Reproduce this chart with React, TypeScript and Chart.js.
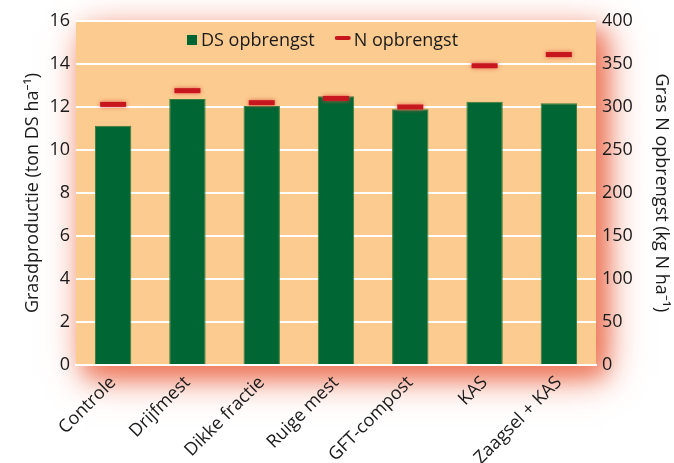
import React, { useEffect, useRef } from "react";
import { Chart, registerables } from "chart.js";

Chart.register(...registerables);

const categories = ["Controle", "Drijfmest", "Dikke fractie", "Ruige mest", "GFT-compost", "KAS", "Zaagsel + KAS"];
const dsValues = [11.13, 12.37, 12.05, 12.5, 11.9, 12.24, 12.17];
const nValues = [303, 319, 305, 310, 300, 348, 361];
const seriesLabels = ["DS opbrengst", "N opbrengst"];
const leftTitle = "Grasdproductie (ton DS ha\u207B\u00B9)";
const rightTitle = "Gras N opbrengst (kg N ha\u207B\u00B9)";

const FONT = "'Open Sans', 'Noto Sans', sans-serif";
const GREEN = "#006633";
const RED = "#C8161E";
const PEACH = "#FBCB8F";

const backgroundPlugin = {
  id: "plotBackground",
  beforeDraw(chart: any) {
    const { ctx, chartArea } = chart;
    const { left, top, right, bottom } = chartArea;
    ctx.save();
    ctx.shadowColor = "rgba(236, 112, 82, 1)";
    ctx.shadowBlur = 36;
    ctx.shadowOffsetX = 9;
    ctx.shadowOffsetY = 11;
    ctx.fillStyle = PEACH;
    ctx.fillRect(left, top, right - left, bottom - top);
    ctx.shadowBlur = 18;
    ctx.shadowColor = "rgba(236, 112, 82, 0.6)";
    ctx.fillRect(left, top, right - left, bottom - top);
    ctx.restore();
    ctx.save();
    ctx.fillStyle = PEACH;
    ctx.fillRect(left, top, right - left, bottom - top);
    ctx.restore();
  },
  beforeDatasetDraw(chart: any, args: any) {
    if (args.index === 1) {
      const ctx = chart.ctx;
      ctx.save();
      ctx.shadowColor = "rgba(225, 80, 70, 0.85)";
      ctx.shadowBlur = 4;
    }
  },
  afterDatasetDraw(chart: any, args: any) {
    if (args.index === 1) {
      chart.ctx.restore();
    }
  },
  afterDraw(chart: any) {
    const { ctx, chartArea } = chart;
    const ds = chart.data.datasets;
    ctx.save();
    ctx.font = `18px ${FONT}`;
    ctx.textBaseline = "middle";
    const cy = 41;
    let x = chartArea.left + 111;
    ctx.fillStyle = GREEN;
    ctx.fillRect(x, cy - 6, 10, 10);
    x += 14;
    ctx.fillStyle = "#1a1a1a";
    ctx.textAlign = "left";
    ctx.fillText(ds[0].label, x, cy);
    x += ctx.measureText(ds[0].label).width + 20;
    ctx.strokeStyle = RED;
    ctx.lineWidth = 4;
    ctx.lineCap = "round";
    ctx.beginPath();
    ctx.moveTo(x + 2, cy - 3);
    ctx.lineTo(x + 14, cy - 3);
    ctx.stroke();
    x += 19;
    ctx.fillText(ds[1].label, x, cy);
    ctx.restore();
  },
};

export default function App() {
  const canvasRef = useRef<HTMLCanvasElement | null>(null);

  useEffect(() => {
    if (!canvasRef.current) return;
    const chart = new Chart(canvasRef.current, {
      type: "bar",
      data: {
        labels: categories,
        datasets: [
          {
            type: "bar",
            label: seriesLabels[0],
            data: dsValues,
            backgroundColor: GREEN,
            borderColor: "#3C7D3C",
            borderWidth: 1,
            barPercentage: 0.49,
            categoryPercentage: 1,
            yAxisID: "y",
            order: 2,
          },
          {
            type: "line",
            label: seriesLabels[1],
            data: nValues,
            showLine: false,
            pointStyle: "line",
            pointRadius: 13,
            pointHoverRadius: 13,
            borderColor: RED,
            backgroundColor: RED,
            pointBorderWidth: 5,
            borderWidth: 5,
            yAxisID: "y1",
            order: 1,
          } as any,
        ],
      },
      options: {
        animation: false,
        responsive: false,
        maintainAspectRatio: false,
        layout: { padding: { top: 21, left: 0, right: 0, bottom: 0 } },
        plugins: {
          legend: { display: false },
          tooltip: { enabled: false },
        },
        scales: {
          x: {
            grid: { display: false, drawTicks: false },
            border: { display: true, color: "#FFFFFF", width: 2 },
            ticks: {
              color: "#1a1a1a",
              font: { family: FONT, size: 18 },
              minRotation: 45,
              maxRotation: 45,
              padding: 7,
              autoSkip: false,
            },
            afterFit(scale: any) {
              scale.height = 98;
            },
          },
          y: {
            position: "left",
            min: 0,
            max: 16,
            ticks: {
              stepSize: 2,
              color: "#1a1a1a",
              font: { family: FONT, size: 18 },
              padding: 6,
            },
            grid: { color: "#FFFFFF", lineWidth: 2, drawTicks: false },
            border: { display: false },
            title: {
              display: true,
              text: leftTitle,
              color: "#1a1a1a",
              font: { family: FONT, size: 18 },
              padding: { top: 22, bottom: 0 },
            },
            afterFit(scale: any) {
              scale.width = 76;
            },
          },
          y1: {
            position: "right",
            min: 0,
            max: 400,
            ticks: {
              stepSize: 50,
              color: "#1a1a1a",
              font: { family: FONT, size: 18 },
              padding: 6,
            },
            grid: { display: false, drawTicks: false },
            border: { display: false },
            title: {
              display: true,
              text: rightTitle,
              color: "#1a1a1a",
              font: { family: FONT, size: 18 },
              padding: { top: 2, bottom: 0 },
            },
            afterFit(scale: any) {
              scale.width = 78;
            },
          },
        },
      },
      plugins: [backgroundPlugin],
    } as any);
    return () => chart.destroy();
  }, []);

  return (
    <div style={{ position: "fixed", left: 0, top: 0, width: 674, height: 463, background: "#FFFFFF" }}>
      <canvas ref={canvasRef} width={674} height={463} style={{ width: 674, height: 463, display: "block" }} />
    </div>
  );
}
